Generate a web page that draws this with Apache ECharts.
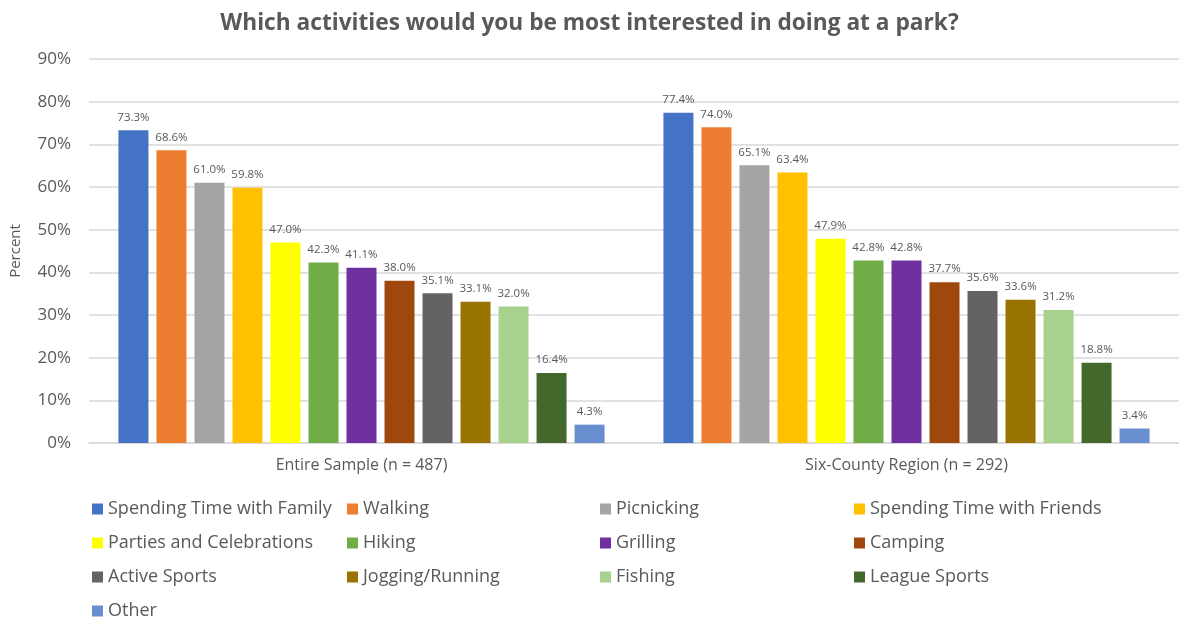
<!DOCTYPE html>
<html>
<head>
<meta charset="utf-8">
<script src="https://cdn.jsdelivr.net/npm/echarts@6/dist/echarts.min.js"></script>
<style>html,body{margin:0;padding:0;background:#fff;overflow:hidden}#c{width:1179px;height:618px}</style>
</head>
<body>
<div id="c"></div>
<script>
const categories = ['Entire Sample (n = 487)', 'Six-County Region (n = 292)'];
const seriesNames = ['Spending Time with Family','Walking','Picnicking','Spending Time with Friends','Parties and Celebrations','Hiking','Grilling','Camping','Active Sports','Jogging/Running','Fishing','League Sports','Other'];
const entireSample = [73.3, 68.6, 61.0, 59.8, 47.0, 42.3, 41.1, 38.0, 35.1, 33.1, 32.0, 16.4, 4.3];
const sixCounty = [77.4, 74.0, 65.1, 63.4, 47.9, 42.8, 42.8, 37.7, 35.6, 33.6, 31.2, 18.8, 3.4];
const colors = ['#4472C4','#ED7D31','#A5A5A5','#FFC000','#FFFF00','#70AD47','#7030A0','#9E480E','#636363','#997300','#A9D18E','#43682B','#698ED0'];
const yTicks = [0, 90, 10];

const FONT = '"Open Sans", "Noto Sans", sans-serif';
const TXT = '#595959';

const series = seriesNames.map((n, i) => ({
  name: n,
  type: 'bar',
  barWidth: 30,
  barGap: '26.7%',
  data: [entireSample[i], sixCounty[i]],
  itemStyle: { color: colors[i] },
  label: {
    show: true, position: 'top', distance: 7,
    formatter: p => p.value.toFixed(1) + '%',
    color: TXT, fontSize: 11.5, fontFamily: FONT
  }
}));

const ROW0 = 494, ROWSTEP = 34;
const cols = [
  { left: 87, top: ROW0, names: [0, 4, 8] },
  { left: 87, top: ROW0 + 3 * ROWSTEP, names: [12] },
  { left: 342, top: ROW0, names: [1, 5, 9] },
  { left: 595, top: ROW0, names: [2, 6, 10] },
  { left: 849, top: ROW0, names: [3, 7, 11] }
];
const legends = cols.map(c => ({
  orient: 'vertical',
  left: c.left,
  top: c.top,
  itemGap: 14,
  itemWidth: 11,
  itemHeight: 11,
  icon: 'rect',
  data: c.names.map(i => seriesNames[i]),
  textStyle: { color: TXT, fontSize: 18, fontFamily: FONT, lineHeight: 20, padding: [0, 0, 0, 0] }
}));

const chart = echarts.init(document.getElementById('c'));
chart.setOption({
  animation: false,
  backgroundColor: '#fff',
  color: colors,
  title: {
    text: 'Which activities would you be most interested in doing at a park?',
    left: 'center', top: 7,
    textStyle: { color: TXT, fontSize: 22.7, fontWeight: 'bold', fontFamily: FONT }
  },
  legend: legends,
  grid: { left: 88, right: -4, top: 59, bottom: 175 },
  xAxis: {
    type: 'category',
    data: categories,
    axisTick: { show: false },
    axisLine: { lineStyle: { color: '#D9D9D9', width: 1.5 } },
    axisLabel: { color: TXT, fontSize: 16, fontFamily: FONT, margin: 14 }
  },
  yAxis: {
    type: 'value',
    min: yTicks[0], max: yTicks[1], interval: yTicks[2],
    name: 'Percent',
    nameLocation: 'middle',
    nameGap: 66,
    nameTextStyle: { color: TXT, fontSize: 15, fontFamily: FONT },
    axisLabel: { formatter: '{value}%', color: TXT, fontSize: 17, fontFamily: FONT, margin: 18 },
    splitLine: { lineStyle: { color: '#D9D9D9', width: 1.5 } },
    axisLine: { show: false },
    axisTick: { show: false }
  },
  series: series
});
</script>
</body>
</html>
